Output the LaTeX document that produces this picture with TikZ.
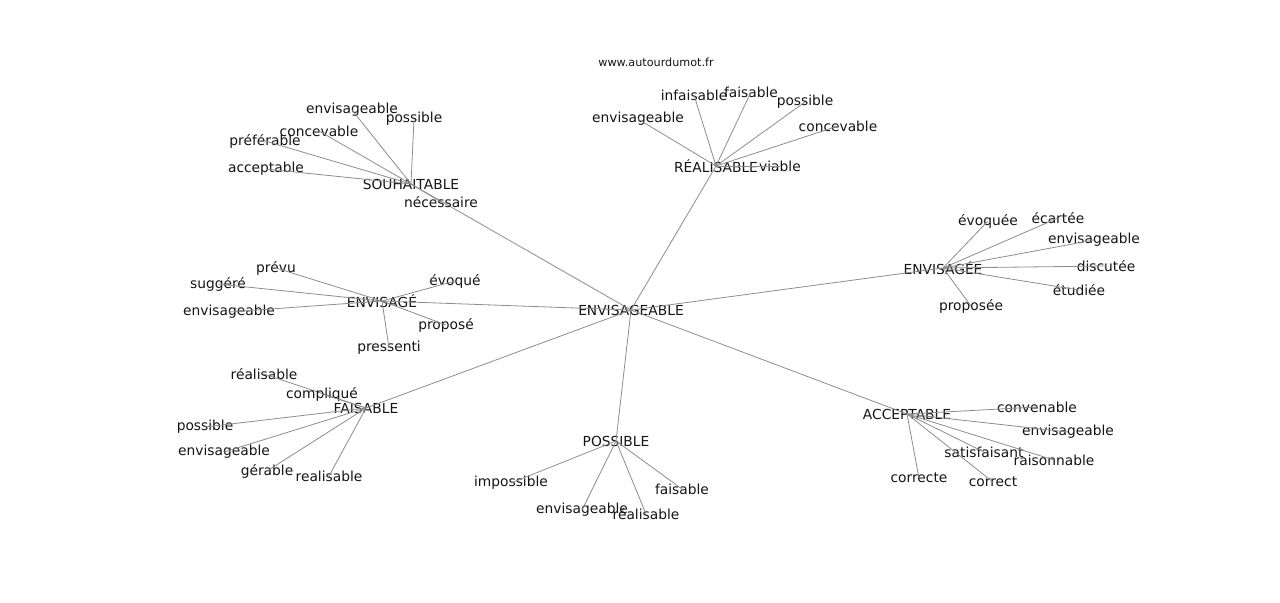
\documentclass[tikz,border=0pt]{standalone}
\usepackage{fontspec}
\setmainfont{DejaVu Sans}
\begin{document}
\begin{tikzpicture}[x=0.5pt,y=-0.5pt,
  lab/.style={font=\fontsize{6.9}{8}\selectfont,text=black!92,inner sep=0pt},
  ed/.style={draw=black!45,line width=0.4pt}]
\useasboundingbox (0,0) rectangle (1280,602);
\node[lab,font=\fontsize{5.6}{7}\selectfont] (w) at (656,62) {www.autourdumot.fr};
\node[lab] (C) at (631,310) {ENVISAGEABLE};
\foreach \n/\p/\t in {S/{411,184}/SOUHAITABLE, R/{716,166}/RÉALISABLE, E/{943,268}/ENVISAGÉE, G/{382,301}/ENVISAGÉ, F/{366,408}/FAISABLE, P/{616,441}/POSSIBLE, A/{907,414}/ACCEPTABLE}
  {\node[lab] (\n) at (\p) {\t}; \draw[ed] (C.center) -- (\n.center);}
\foreach \pa/\n/\p/\t in {
 S/s1/{352,110}/envisageable, S/s2/{414,119}/possible, S/s3/{319,131}/concevable, S/s4/{265,141}/préférable, S/s5/{266,169}/acceptable, S/s6/{441,202}/nécessaire,
 R/r1/{694,95}/infaisable, R/r2/{751,92}/faisable, R/r3/{805,102}/possible, R/r4/{838,126}/concevable, R/r5/{638,119}/envisageable, R/r6/{780,166}/viable,
 E/e1/{988,221}/évoquée, E/e2/{1058,218}/écartée, E/e3/{1094,240}/envisageable, E/e4/{1106,266}/discutée, E/e5/{1079,290}/étudiée, E/e6/{971,306}/proposée,
 G/g1/{276,268}/prévu, G/g2/{218,284}/suggéré, G/g3/{229,312}/envisageable, G/g4/{455,281}/évoqué, G/g5/{446,325}/proposé, G/g6/{389,348}/pressenti,
 F/f1/{264,374}/réalisable, F/f2/{322,394}/compliqué, F/f3/{205,427}/possible, F/f4/{224,452}/envisageable, F/f5/{267,471}/gérable, F/f6/{329,476}/realisable,
 P/p1/{511,483}/impossible, P/p2/{582,510}/envisageable, P/p3/{646,514}/réalisable, P/p4/{682,489}/faisable,
 A/a1/{1037,407}/convenable, A/a2/{1068,432}/envisageable, A/a3/{984,452}/satisfaisant, A/a4/{1054,460}/raisonnable, A/a5/{919,478}/correcte, A/a6/{993,482}/correct}
 {\node[lab] (\n) at (\p) {\t}; \draw[ed] (\pa.center) -- (\n.center);}
\end{tikzpicture}
\end{document}
